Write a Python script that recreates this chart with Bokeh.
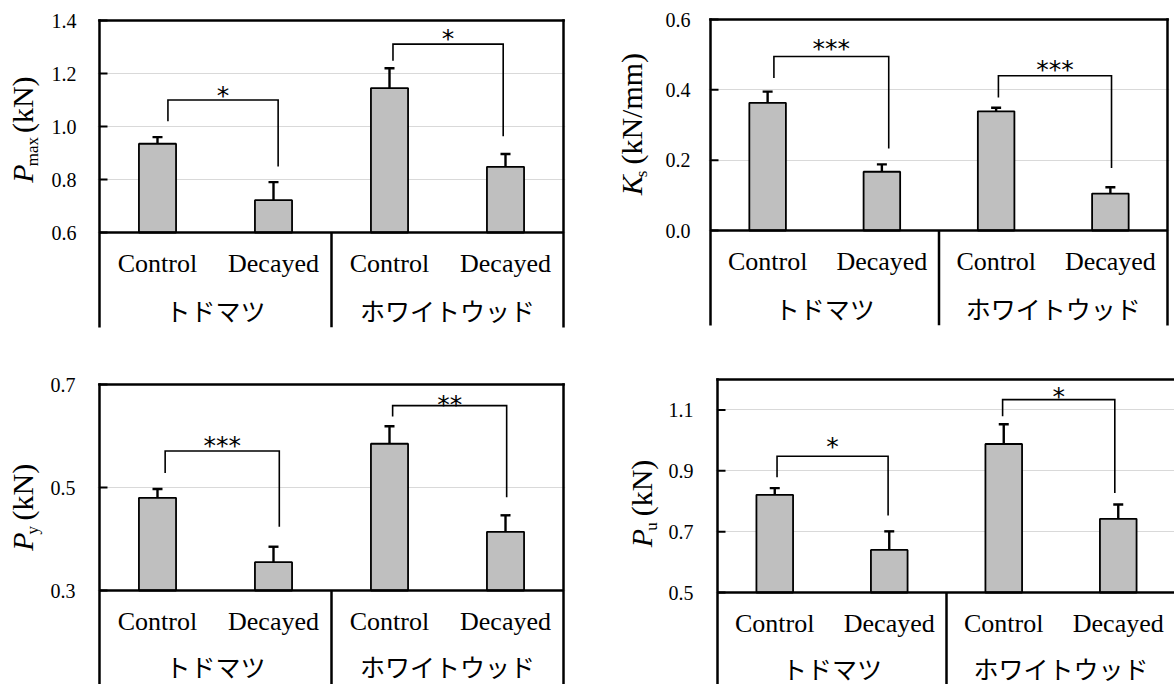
from bokeh.plotting import figure
from bokeh.models import (Range1d, FixedTicker, PrintfTickFormatter, Whisker, TeeHead,
                          ColumnDataSource)
from bokeh.layouts import column, row
from bokeh.core.properties import value
from bokeh.embed import file_html
from bokeh.resources import INLINE

# ---- data -----------------------------------------------------------------
treatments = ["Control", "Decayed", "Control", "Decayed"]
species = ["トドマツ", "ホワイトウッド"]

# maximum load
pmax_mean = [0.935, 0.722, 1.145, 0.848]
pmax_err = [0.025, 0.068, 0.075, 0.048]
pmax_ticks = [0.6, 0.8, 1.0, 1.2, 1.4]
pmax_lim = (0.6, 1.4)
pmax_bracket = [1.100, 1.311]
pmax_leg_left = [1.020, 1.248]
pmax_leg_right = [0.849, 0.963]
pmax_sig = ["*", "*"]
pmax_sig_y = [1.140, 1.353]

# initial stiffness
ks_mean = [0.363, 0.167, 0.339, 0.105]
ks_err = [0.032, 0.021, 0.010, 0.018]
ks_ticks = [0.0, 0.2, 0.4, 0.6]
ks_lim = (0.0, 0.6)
ks_bracket = [0.495, 0.440]
ks_leg_left = [0.434, 0.378]
ks_leg_right = [0.233, 0.178]
ks_sig = ["***", "***"]
ks_sig_y = [0.536, 0.474]

# yield load
py_mean = [0.480, 0.355, 0.585, 0.414]
py_err = [0.017, 0.030, 0.034, 0.032]
py_ticks = [0.3, 0.5, 0.7]
py_lim = (0.3, 0.7)
py_bracket = [0.571, 0.659]
py_leg_left = [0.528, 0.638]
py_leg_right = [0.424, 0.481]
py_sig = ["***", "**"]
py_sig_y = [0.593, 0.672]

# ultimate load
pu_mean = [0.821, 0.640, 0.988, 0.742]
pu_err = [0.022, 0.061, 0.065, 0.047]
pu_ticks = [0.5, 0.7, 0.9, 1.1]
pu_lim = (0.5, 1.2)
pu_bracket = [0.948, 1.134]
pu_leg_left = [0.879, 1.079]
pu_leg_right = [0.753, 0.827]
pu_sig = ["*", "*"]
pu_sig_y = [0.998, 1.163]

# ---- text metrics (Times-compatible advance widths, em units) --------------
ROMAN = {' ': 0.25, '(': 0.333, ')': 0.333, 'k': 0.5, 'N': 0.722, '/': 0.278,
         'm': 0.778, 'a': 0.444, 'x': 0.5, 's': 0.389, 'y': 0.5, 'u': 0.5}
ITALIC = {'P': 0.611, 'K': 0.667}
MID = 0.34          # em-box middle above the alphabetic baseline
STAR_RISE = 0.24    # asterisk centre above the em-box middle


def text_width(s, size, italic=False):
    table = ITALIC if italic else ROMAN
    return sum(table.get(c, 0.5) for c in s) * size


SERIF = "Liberation Serif"
W, H = 587, 342


def title_strip(width, title, baseline_x, top, base):
    """Narrow figure holding the rotated value-axis title (symbol, subscript, unit)."""
    t = figure(width=width, height=H, x_range=Range1d(0, width), y_range=Range1d(0, H),
               output_backend="svg", toolbar_location=None,
               x_axis_location=None, y_axis_location=None,
               min_border=0, min_border_left=0, min_border_right=0,
               min_border_top=0, min_border_bottom=0)
    t.outline_line_color = None
    t.grid.visible = False
    main, sub, unit = title
    fs_main, fs_sub = 30, 17
    w_main = text_width(main, fs_main, italic=True)
    w_sub = text_width(sub, fs_sub)
    w_gap = text_width(" ", fs_main)
    w_unit = text_width(unit, fs_main)
    total = w_main + w_sub + w_gap + w_unit
    start = H - ((top + base) / 2 + total / 2)   # measured upward from the bottom
    kw = dict(angle=90, angle_units="deg", text_align="left",
              text_baseline="middle", text_font=value(SERIF), text_color="black")
    x_main = baseline_x - MID * fs_main
    x_sub = baseline_x + 6 - MID * fs_sub
    t.text(x=[x_main], y=[start], text=[main], text_font_size=value(f"{fs_main}px"),
           text_font_style="italic", **kw)
    t.text(x=[x_sub], y=[start + w_main], text=[sub],
           text_font_size=value(f"{fs_sub}px"), **kw)
    t.text(x=[x_main], y=[start + w_main + w_sub + w_gap], text=[unit],
           text_font_size=value(f"{fs_main}px"), **kw)
    return t


def make_panel(mean, err, lim, ticks, bracket, leg_l, leg_r, sig, sig_y, title, geom):
    L, R, T, B, BOT = geom["frame"]
    tw = geom["strip"]
    ymin, ymax = lim
    pad = 2
    ppu = (R - L) / 4.0
    ppv = (B - T) / (ymax - ymin)
    fl, fr = L - pad, min(R + pad, W)
    ft, fb = T - pad, min(BOT, H)
    x_rng = Range1d(-pad / ppu, 4 + (fr - R) / ppu)
    y_rng = Range1d(ymin - (fb - B) / ppv, ymax + pad / ppv)

    p = figure(width=W - tw, height=H, x_range=x_rng, y_range=y_rng,
               output_backend="svg", toolbar_location=None,
               x_axis_location=None,
               min_border_left=fl - tw, min_border_right=W - fr,
               min_border_top=ft, min_border_bottom=H - fb)
    p.outline_line_color = None
    p.xgrid.visible = False

    # value axis (labels from the axis, short inward tick marks drawn at the frame)
    ax = p.yaxis[0]
    ax.ticker = FixedTicker(ticks=ticks)
    ax.formatter = PrintfTickFormatter(format="%.1f")
    ax.axis_line_color = None
    ax.major_tick_in = 0
    ax.major_tick_out = 0
    ax.minor_tick_line_color = None
    ax.major_label_standoff = geom["standoff"]
    ax.major_label_text_font = SERIF
    ax.major_label_text_font_size = "20px"
    ax.major_label_text_color = "black"
    p.ygrid.ticker = FixedTicker(ticks=ticks)
    p.ygrid.grid_line_color = "#d9d9d9"
    p.ygrid.grid_line_width = 1.2
    p.ray(x=[0] * len(ticks), y=ticks, length=8, length_units="screen", angle=0,
          line_color="black", line_width=2)

    centers = [0.5, 1.5, 2.5, 3.5]
    src = ColumnDataSource(dict(
        x=centers, top=mean,
        upper=[m + e for m, e in zip(mean, err)],
        lower=[m - e for m, e in zip(mean, err)]))

    p.vbar(x="x", top="top", bottom=ymin, width=0.32, source=src,
           fill_color="#bfbfbf", line_color="black", line_width=1.8)

    p.add_layout(Whisker(source=src, base="x", upper="upper", lower="lower",
                         dimension="height", line_width=2.4, line_color="black",
                         upper_head=TeeHead(size=10, line_width=2.4, line_color="black"),
                         lower_head=TeeHead(size=10, line_width=2.4, line_color="black")))

    # significance brackets between Control and Decayed of each species
    xs, ys, mx = [], [], []
    for g in range(2):
        dl, dr = geom["legs"][g]
        xl = centers[2 * g] + dl
        xr = centers[2 * g + 1] + dr
        xs.append([xl, xl, xr, xr])
        ys.append([leg_l[g], bracket[g], bracket[g], leg_r[g]])
        mx.append((xl + xr) / 2)
    p.multi_line(xs=xs, ys=ys, line_color="black", line_width=1.6,
                 line_join="miter")
    fs_star = 25
    p.text(x=mx, y=[v - STAR_RISE * fs_star / ppv for v in sig_y], text=sig,
           text_align="center", text_baseline="middle",
           text_font=value("DejaVu Sans"), text_font_size=value(f"{fs_star}px"),
           text_color="black")

    # frame and category table rules
    ybot = y_rng.start
    p.segment(x0=[0, 4, 0], y0=[ybot, ybot, ymax], x1=[0, 4, 4], y1=[ymax, ymax, ymax],
              line_color="black", line_width=2.5, line_cap="square")
    p.segment(x0=[0, 2], y0=[ymin, ymin], x1=[4, 2], y1=[ymin, ybot],
              line_color="black", line_width=2.5)

    # category labels
    p.text(x=centers, y=[ymin] * 4, text=treatments, y_offset=31,
           text_align="center", text_baseline="middle",
           text_font=value(SERIF), text_font_size=value("26px"), text_color="black")
    p.text(x=[1.0, 3.0], y=[ymin] * 2, text=species, y_offset=geom["group_off"],
           text_align="center", text_baseline="middle",
           text_font=value("Noto Sans CJK JP"), text_font_size=value("25px"),
           text_color="black")

    strip = title_strip(tw, title, L - geom["title_gap"], T, B)
    return row(strip, p)


p1 = make_panel(pmax_mean, pmax_err, pmax_lim, pmax_ticks, pmax_bracket,
                pmax_leg_left, pmax_leg_right, pmax_sig, pmax_sig_y,
                ("P", "max", "(kN)"),
                dict(frame=(98, 563, 20, 232, 327), legs=[(0.09, 0.04), (0.03, -0.02)],
                     standoff=21, title_gap=66, strip=48, group_off=77))
p2 = make_panel(ks_mean, ks_err, ks_lim, ks_ticks, ks_bracket,
                ks_leg_left, ks_leg_right, ks_sig, ks_sig_y,
                ("K", "s", "(kN/mm)"),
                dict(frame=(123, 580, 19, 230, 325), legs=[(0.055, 0.06), (0.02, 0.01)],
                     standoff=18, title_gap=69, strip=74, group_off=77))
p3 = make_panel(py_mean, py_err, py_lim, py_ticks, py_bracket,
                py_leg_left, py_leg_right, py_sig, py_sig_y,
                ("P", "y", "(kN)"),
                dict(frame=(97, 563, 42, 248, 342), legs=[(0.066, 0.05), (0.027, 0.01)],
                     standoff=22, title_gap=65, strip=47, group_off=75))
p4 = make_panel(pu_mean, pu_err, pu_lim, pu_ticks, pu_bracket,
                pu_leg_left, pu_leg_right, pu_sig, pu_sig_y,
                ("P", "u", "(kN)"),
                dict(frame=(130, 588, 37, 250, 342), legs=[(0.02, -0.01), (-0.01, -0.03)],
                     standoff=22, title_gap=66, strip=78, group_off=75))

layout = column(row(p1, p2), row(p3, p4))
open("out.html", "w").write(file_html(layout, INLINE))
